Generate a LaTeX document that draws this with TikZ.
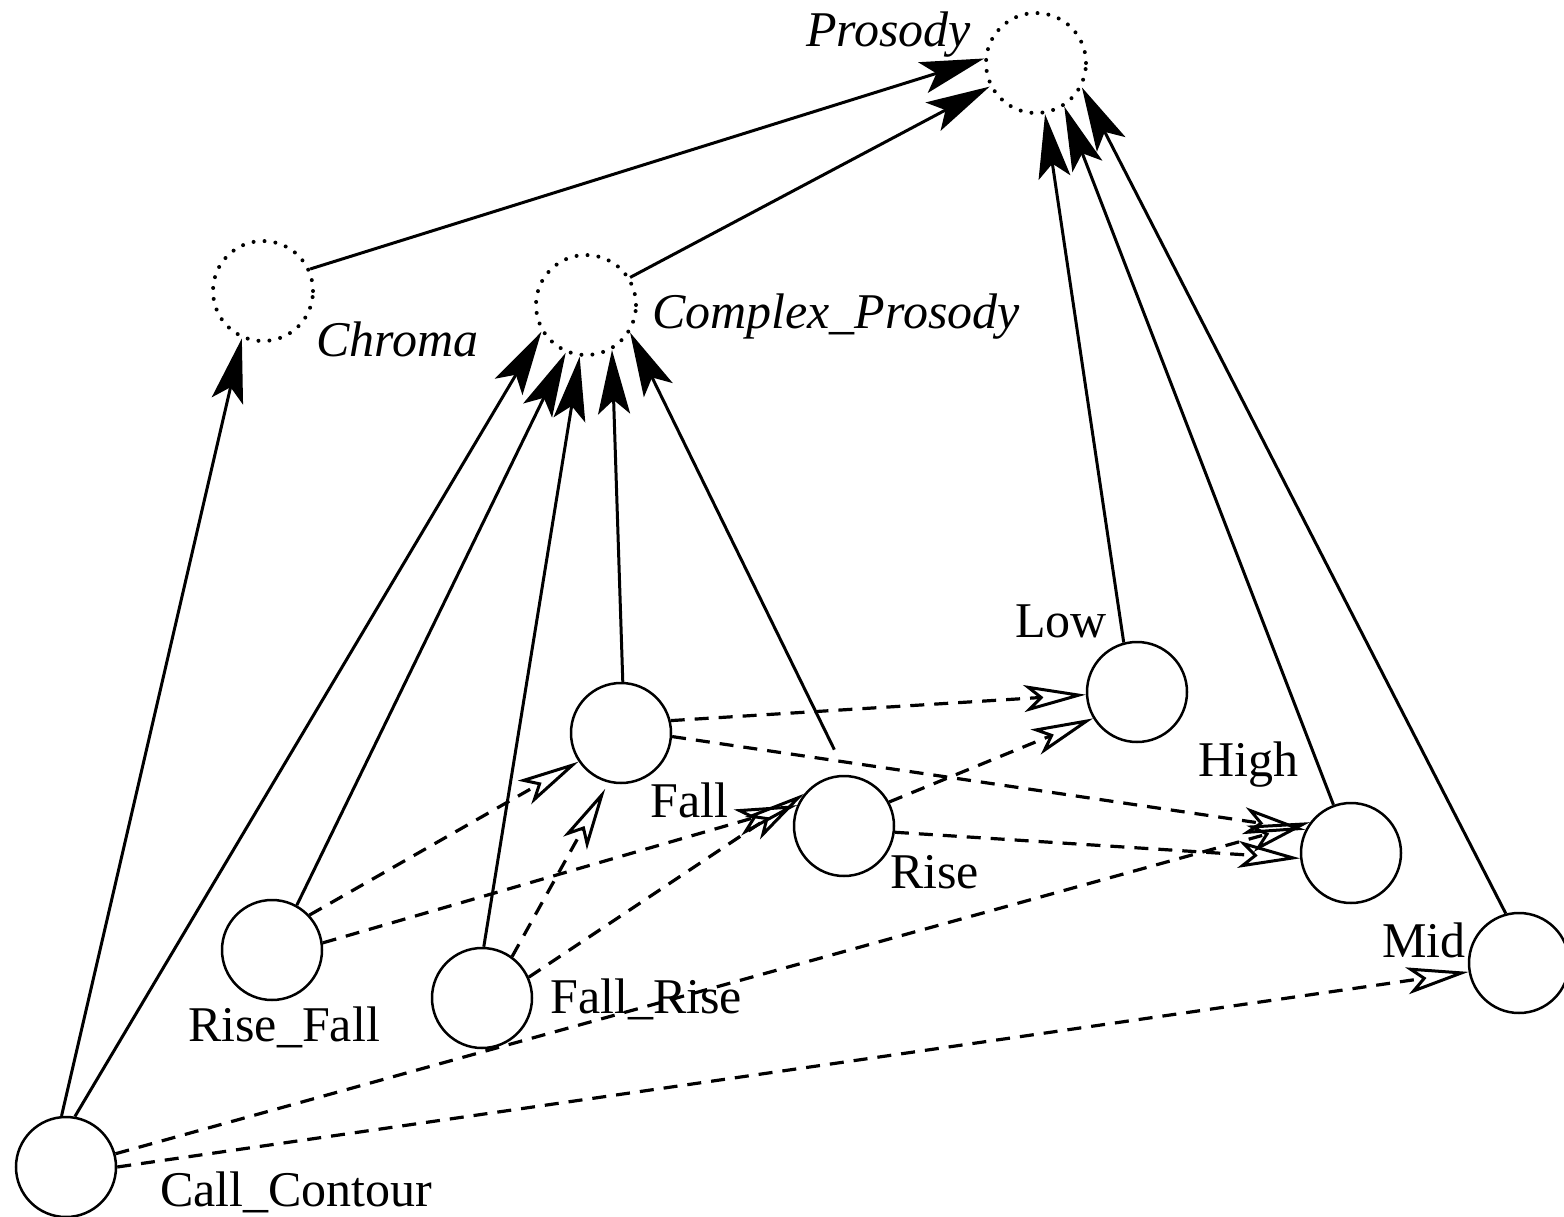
\documentclass[tikz,border=0pt]{standalone}
\usepackage{fontspec}
\setmainfont{Liberation Serif}
\usetikzlibrary{arrows.meta}
\tikzset{
  cnode/.style={circle,draw,line width=2.5pt,minimum size=100pt,inner sep=0pt},
  dnode/.style={circle,draw,line width=4pt,line cap=round,dash pattern=on 0pt off 11pt,minimum size=100pt,inner sep=0pt},
  lbl/.style={anchor=base west,inner sep=0pt,font=\fontsize{50}{60}\selectfont},
  ilbl/.style={lbl,font=\fontsize{50}{60}\selectfont\itshape},
  sol/.style={line width=3pt,-{Stealth[length=64pt,width=32pt,inset=14pt]}},
  dsh/.style={line width=3.2pt,dash pattern=on 14pt off 10pt,-{Stealth[open,length=62pt,width=27pt,inset=15pt,line width=3pt]}}
}
\begin{document}
\begin{tikzpicture}[x=1pt,y=-1pt]
\useasboundingbox (0,0) rectangle (1564,1217);
% nodes
\node[dnode] (prosody) at (1036,63) {};
\node[dnode] (chroma) at (263,291) {};
\node[dnode] (complex) at (586,305) {};
\node[cnode] (fall) at (621,733) {};
\node[cnode] (rise) at (844,826) {};
\node[cnode] (low) at (1137,692) {};
\node[cnode] (high) at (1351,853) {};
\node[cnode] (mid) at (1519,963) {};
\node[cnode] (risefall) at (272,950) {};
\node[cnode] (fallrise) at (482,998) {};
\node[cnode] (call) at (66,1167) {};
% labels
\node[ilbl] (lprosody) at (806,47) {Prosody};
\node[ilbl] (lchroma) at (316,356) {Chroma};
\node[ilbl] (lcomplex) at (652,328) {Complex\_Prosody};
\node[lbl] (llow) at (1015,637) {Low};
\node[lbl] (lfall) at (650,817) {Fall};
\node[lbl] (lhigh) at (1198,776) {High};
\node[lbl] (lrise) at (890,888) {Rise};
\node[lbl] (lmid) at (1382,957) {Mid};
\node[lbl] (lrisefall) at (188,1041) {Rise\_Fall};
\node[lbl] (lfallrise) at (550,1013) {Fall\_Rise};
\node[lbl] (lcall) at (160,1206) {Call\_Contour};
% solid connectors
\draw[sol] (chroma.25) -- (prosody.175);
\draw[sol] (complex.32) -- (prosody.207);
\draw[sol] (low.105) -- (prosody.280);
\draw[sol] (high.110) -- (prosody.303);
\draw[sol] (mid.105) -- (prosody.332);
\draw[sol] (call.95) -- (chroma.246);
\draw[sol] (call.80) -- (complex.211);
\draw[sol] (risefall.61) -- (complex.247);
\draw[sol] (fallrise.88) -- (complex.263);
\draw[sol] (fall.88) -- (complex.300);
\draw[sol,shorten <=28pt] (rise.87) -- (complex.328);
% dashed connectors
\draw[dsh] (fall.14) -- (low.183);
\draw[dsh] (fall.356) -- (high.153);
\draw[dsh] (rise.28) -- (low.211);
\draw[dsh] (rise.353) -- (high.186);
\draw[dsh] (risefall.43) -- (fall.214);
\draw[dsh] (risefall.8) -- (rise.156);
\draw[dsh,shorten >=7pt] (fallrise.54) -- (fall.256);
\draw[dsh] (fallrise.24) -- (rise.141);
\draw[dsh] (call.15) -- (high.143);
\draw[dsh] (call.0) -- (mid.190);
\end{tikzpicture}
\end{document}
